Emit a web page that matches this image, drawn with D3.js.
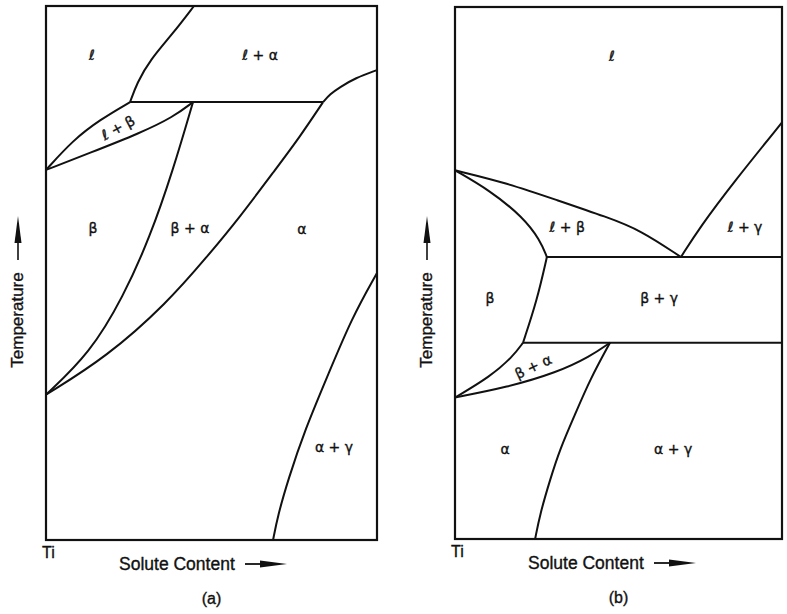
<!DOCTYPE html>
<html>
<head>
<meta charset="utf-8">
<script src="https://cdn.jsdelivr.net/npm/d3@7"></script>
<style>
body { margin: 0; background: #fff; }
text { fill: #111; stroke: #111; stroke-width: 0.35px; }
</style>
</head>
<body>
<svg width="787" height="614"></svg>
<script>
// phase boundaries as [composition, temperature], arbitrary units 0-100
// (a) peritectic + alpha stabiliser
const aLiqAlpha = [[44.7,100],[38.4,94.9],[31.4,89.9],[27.5,85.6],[25.4,82]];
const aAlphaLiq = [[83.7,82],[85.8,83.5],[88.8,84.8],[93.4,86.5],[100,88]];
const aLiqBeta = [[0,69.3],[8.2,74.9],[16.3,78.7],[25.4,82]];
const aBetaLiq = [[0,69.3],[13.3,72.5],[28.4,76.2],[38.4,79.2],[44.4,82]];
const aBetaAlpha = [[44.4,82],[38.4,69.3],[31.4,56.7],[23.3,45.5],[13.3,35],[0,27.2]];
const aAlphaBeta = [[83.7,82],[76.7,75.5],[69.2,69.3],[58.6,60.5],[48.6,53],[36.6,44.4],[18.4,34.3],[0,27.2]];
const aAlphaGamma = [[100,50],[92.4,41.6],[85.2,30.9],[78.2,20.6],[73.1,11.2],[70.1,4.7],[68.6,0]];
const aIsotherms = [[25.4,83.7,82]];   // [from, to, temperature]

// (b) eutectic + eutectoid
const bLiqBeta = [[0,69.3],[15.9,66.9],[31.2,63.7],[46.5,60.5],[56.6,58.1],[69.1,53]];
const bBetaLiq = [[0,69.3],[10.7,65.5],[20.8,60.5],[26,56.2],[28.1,53]];
const bLiqGamma = [[69.1,53],[74.9,58.6],[85,66.9],[100,78.3]];
const bBetaGamma = [[28.1,53],[25.1,44.9],[20.8,36.9]];
const bBetaAlpha = [[0,26.6],[10.7,30.5],[17.7,34.3],[20.8,36.9]];
const bAlphaBeta = [[0,26.6],[15.9,28.5],[31.2,31.3],[41.3,34.3],[47.4,36.9]];
const bAlphaGamma = [[47.4,36.9],[41.3,30],[36.7,23.4],[32.1,16.9],[29.1,11.2],[26,4.7],[24.5,0]];
const bIsotherms = [[28.1,100,53],[20.8,100,36.9]];

// phase field labels [text, composition, temperature, rotation]
const aLabels = [['ℓ',13.9,90.8,0],['ℓ + α',64.7,90.8,0],['ℓ + β',21.8,77.2,-28],
  ['β',14.2,58.4,0],['β + α',43.5,58.4,0],['α',77.3,58.2,0],['α + γ',87,17.4,0]];
const bLabels = [['ℓ',48,90.8,0],['ℓ + β',34.3,58.6,0],['ℓ + γ',88.7,58.6,0],
  ['β',10.7,45.3,0],['β + γ',62.4,45.3,0],['β + α',23.9,32.4,-25],
  ['α',15.3,16.9,0],['α + γ',66.7,16.9,0]];

const svg = d3.select('svg');

function drawPanel(p) {
  const x = d3.scaleLinear().domain([0,100]).range([p.left, p.right]);
  const y = d3.scaleLinear().domain([0,100]).range([p.bottom, p.top]);
  const g = svg.append('g');
  const line = d3.line().x(d => x(d[0])).y(d => y(d[1]))
    .curve(d3.curveBasis);

  g.append('rect')
    .attr('x', x(0)).attr('y', y(100))
    .attr('width', x(100) - x(0)).attr('height', y(0) - y(100))
    .attr('fill', 'none').attr('stroke', '#111').attr('stroke-width', 2.2);

  g.selectAll('path.bd').data(p.curves).enter()
    .append('path').attr('class', 'bd')
    .attr('d', line)
    .attr('fill', 'none').attr('stroke', '#111').attr('stroke-width', 2);

  g.selectAll('line.iso').data(p.isotherms).enter()
    .append('line').attr('class', 'iso')
    .attr('x1', d => x(d[0])).attr('x2', d => x(d[1]))
    .attr('y1', d => y(d[2])).attr('y2', d => y(d[2]))
    .attr('stroke', '#111').attr('stroke-width', 2);

  g.selectAll('text.ph').data(p.labels).enter()
    .append('text').attr('class', 'ph')
    .attr('transform', d => `translate(${x(d[1])},${y(d[2])}) rotate(${d[3]})`)
    .attr('text-anchor', 'middle').attr('dy', '0.35em')
    .style('font-family', 'DejaVu Sans, sans-serif').style('font-size', '14px')
    .text(d => d[0]);

  // axis captions
  const font = 'Liberation Sans, Arial, sans-serif';
  g.append('text').attr('x', x(0) - 4).attr('y', y(0) + 18)
    .style('font-family', font).style('font-size', '16px')
    .text('Ti');

  g.append('text').attr('x', x(0) + 73).attr('y', y(0) + 30)
    .style('font-family', font).style('font-size', '17.5px')
    .text('Solute Content');
  const ax = y(0) + 24;
  g.append('line').attr('x1', x(0) + 199).attr('x2', x(0) + 222)
    .attr('y1', ax).attr('y2', ax).attr('stroke', '#111').attr('stroke-width', 1.8);
  g.append('path')
    .attr('d', `M${x(0)+214},${ax-3.5} L${x(0)+241},${ax} L${x(0)+214},${ax+3.5} Z`)
    .attr('fill', '#111');

  g.append('text')
    .attr('transform', `translate(${x(0) - 23},320) rotate(-90)`)
    .attr('text-anchor', 'middle')
    .style('font-family', font).style('font-size', '17px')
    .text('Temperature');
  const tx = x(0) - 28;
  g.append('line').attr('x1', tx).attr('x2', tx).attr('y1', 260).attr('y2', 235)
    .attr('stroke', '#111').attr('stroke-width', 1.6);
  g.append('path')
    .attr('d', `M${tx-3.5},${243} L${tx},${216} L${tx+3.5},${243} Z`)
    .attr('fill', '#111');

  g.append('text').attr('x', (x(0) + x(100)) / 2).attr('y', y(0) + 64)
    .attr('text-anchor', 'middle')
    .style('font-family', font).style('font-size', '16px')
    .text(p.name);
}

drawPanel({name: '(a)', left: 46, right: 377, top: 6, bottom: 540,
  curves: [aLiqAlpha, aAlphaLiq, aLiqBeta, aBetaLiq, aBetaAlpha, aAlphaBeta, aAlphaGamma],
  isotherms: aIsotherms, labels: aLabels});
drawPanel({name: '(b)', left: 455, right: 782, top: 7, bottom: 539,
  curves: [bLiqBeta, bBetaLiq, bLiqGamma, bBetaGamma, bBetaAlpha, bAlphaBeta, bAlphaGamma],
  isotherms: bIsotherms, labels: bLabels});
</script>
</body>
</html>
